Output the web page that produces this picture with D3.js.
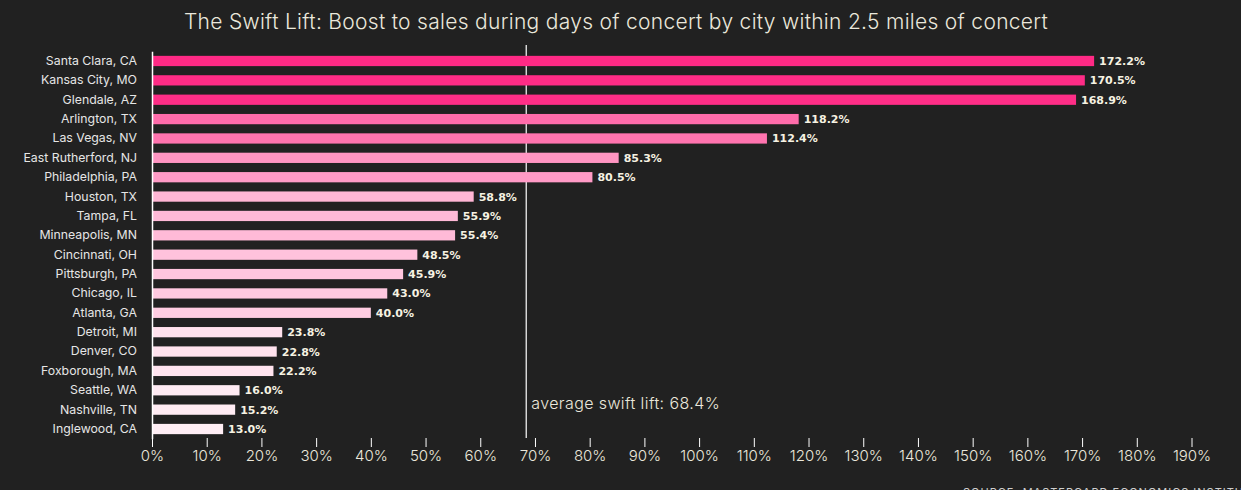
<!DOCTYPE html>
<html>
<head>
<meta charset="utf-8">
<script src="https://cdn.jsdelivr.net/npm/d3@7"></script>
<style>
  html, body { margin: 0; padding: 0; background: #212121; overflow: hidden; }
  svg { display: block; }
</style>
</head>
<body>
<svg id="chart" width="1241" height="490"></svg>
<script>
const cities = ["Santa Clara, CA","Kansas City, MO","Glendale, AZ","Arlington, TX","Las Vegas, NV","East Rutherford, NJ","Philadelphia, PA","Houston, TX","Tampa, FL","Minneapolis, MN","Cincinnati, OH","Pittsburgh, PA","Chicago, IL","Atlanta, GA","Detroit, MI","Denver, CO","Foxborough, MA","Seattle, WA","Nashville, TN","Inglewood, CA"];
const lifts = [172.2,170.5,168.9,118.2,112.4,85.3,80.5,58.8,55.9,55.4,48.5,45.9,43.0,40.0,23.8,22.8,22.2,16.0,15.2,13.0];
const tickValues = [0,10,20,30,40,50,60,70,80,90,100,110,120,130,140,150,160,170,180,190];
const averageLift = 68.4;
const titleText = "The Swift Lift: Boost to sales during days of concert by city within 2.5 miles of concert";
const sourceText = "SOURCE: MASTERCARD ECONOMICS INSTITUTE";

const svg = d3.select("#chart");
const W = 1241, H = 490;
const FONT = "Inter, 'Open Sans', sans-serif";
svg.append("rect").attr("width", W).attr("height", H).attr("fill", "#212121");

const x = d3.scaleLinear().domain([0, 190]).range([152, 1191.5]);
const y = d3.scaleBand().domain(cities).range([51.3, 438.7]).paddingInner(0.47).paddingOuter(0.235);
const color = d3.scaleLinear().domain([13, 172.2]).range(["#ffeef5", "#ff2a85"]);

// title
svg.append("text").attr("x", 616).attr("y", 29).attr("text-anchor", "middle")
  .attr("font-family", FONT).attr("font-size", 21).attr("font-weight", 300).attr("letter-spacing", 0.3)
  .attr("fill", "#ebe8dc").text(titleText);

// average line (beneath bars)
svg.append("line").attr("x1", x(averageLift)).attr("x2", x(averageLift))
  .attr("y1", 45).attr("y2", 438).attr("stroke", "#ffffff").attr("stroke-width", 1.2);

// bars
svg.append("g").selectAll("rect").data(lifts).join("rect")
  .attr("x", x(0)).attr("y", (d, i) => y(cities[i]))
  .attr("width", d => x(d) - x(0)).attr("height", y.bandwidth())
  .attr("fill", d => color(d));

// value labels
svg.append("g").selectAll("text").data(lifts).join("text")
  .attr("x", d => x(d) + 5).attr("y", (d, i) => y(cities[i]) + y.bandwidth() / 2 + 4)
  .attr("font-family", "'DejaVu Sans', Verdana, sans-serif").attr("font-size", 11).attr("font-weight", 700)
  .attr("fill", "#f6f2e2").text(d => d.toFixed(1) + "%");

// y axis
const yAxis = d3.axisLeft(y).tickSize(0).tickPadding(15);
const yg = svg.append("g").attr("transform", `translate(${x(0)},0)`).call(yAxis);
yg.select(".domain").attr("stroke", "#ffffff").attr("stroke-width", 1.5);
yg.selectAll("text").attr("font-family", FONT).attr("font-size", 12.3).attr("font-weight", 400)
  .attr("fill", "#e6e6e6");

// x axis
const xAxis = d3.axisBottom(x).tickValues(tickValues).tickFormat(d => d + "%").tickSize(9).tickPadding(3);
const xg = svg.append("g").attr("transform", `translate(0,438)`).call(xAxis);
xg.select(".domain").remove();
xg.selectAll("line").attr("stroke", "#ffffff");
xg.selectAll("text").attr("font-family", FONT).attr("font-size", 15).attr("font-weight", 300)
  .attr("fill", "#ebe8dc");

// average label
svg.append("text").attr("x", x(averageLift) + 5).attr("y", 409)
  .attr("font-family", FONT).attr("font-size", 16).attr("font-weight", 300).attr("letter-spacing", 0.4)
  .attr("fill", "#ebe8dc").text("average swift lift: " + averageLift + "%");

// source
svg.append("text").attr("x", 963).attr("y", 496)
  .attr("font-family", FONT).attr("font-size", 11).attr("letter-spacing", 1)
  .attr("fill", "#cfcfcf").text(sourceText);
</script>
</body>
</html>
